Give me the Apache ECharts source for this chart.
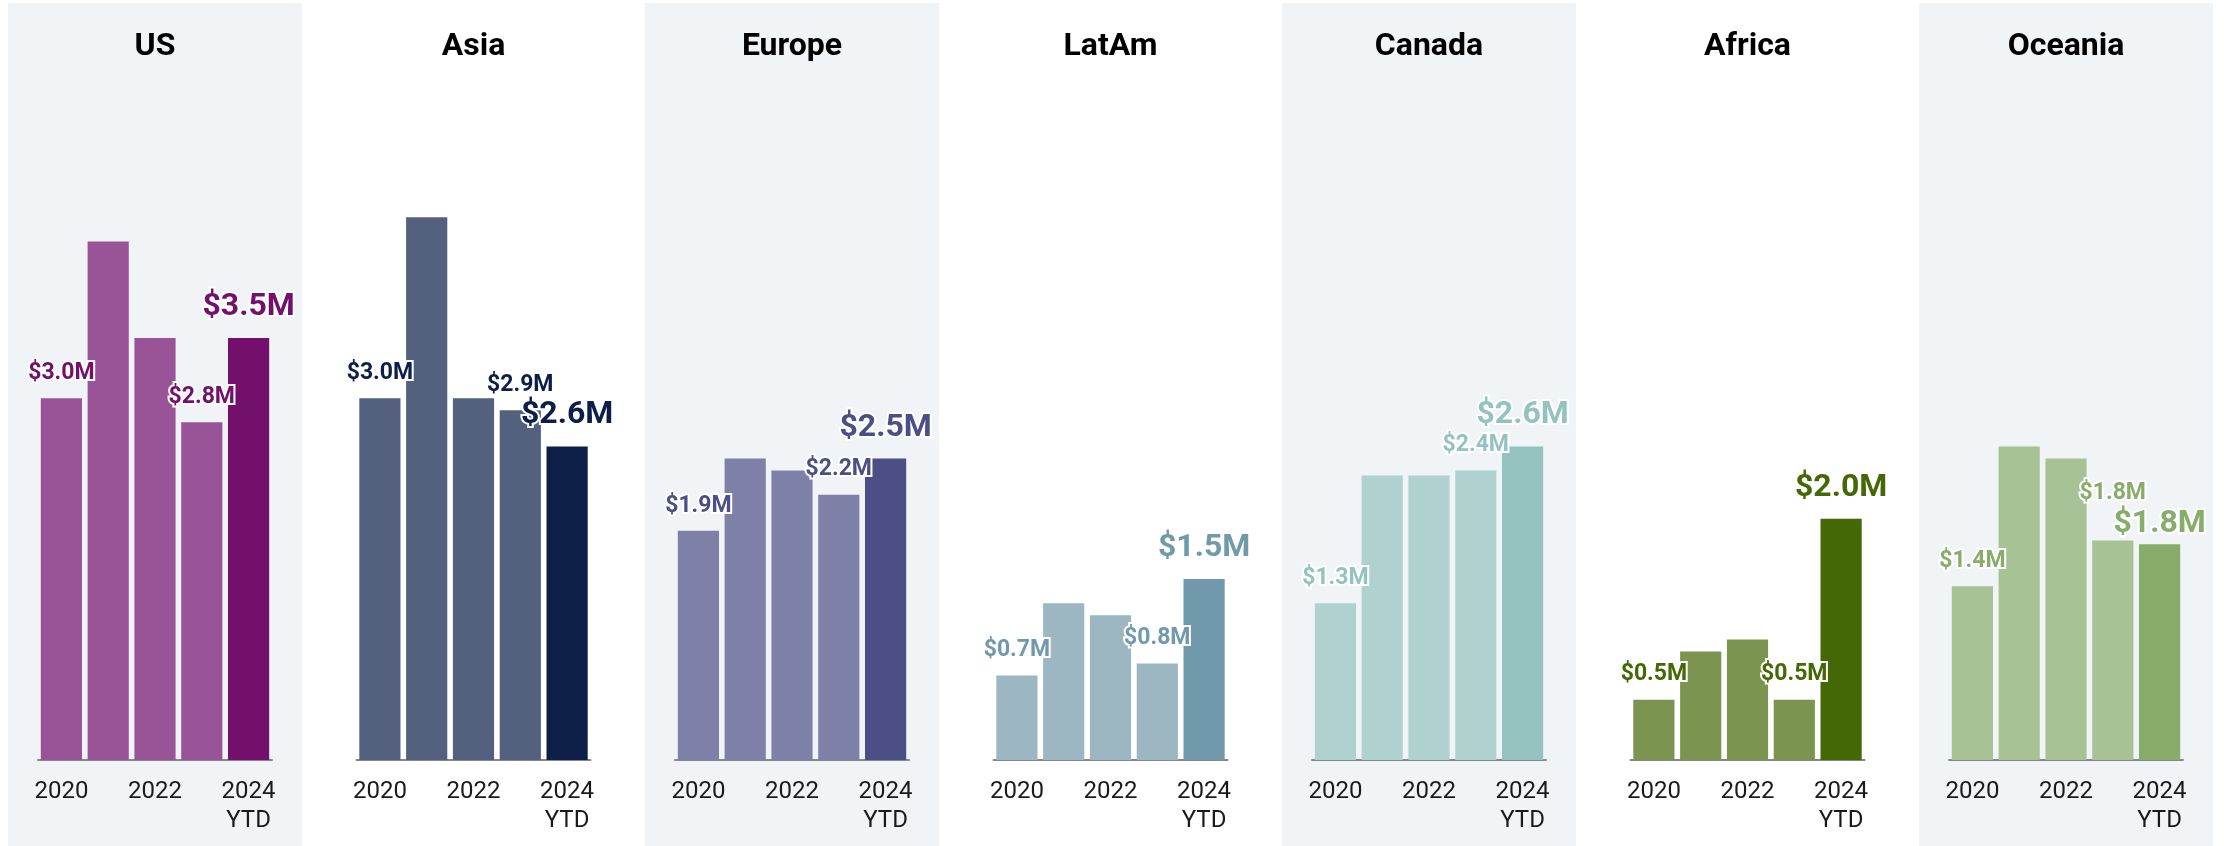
<!DOCTYPE html>
<html>
<head>
<meta charset="utf-8">
<script src="https://cdn.jsdelivr.net/npm/echarts@6/dist/echarts.min.js"></script>
<style>
  html, body { margin: 0; padding: 0; background: #fff; }
  #main { width: 2224px; height: 846px; }
</style>
</head>
<body>
<div id="main"></div>
<script>
// years on every small chart
var years = ['2020', '2021', '2022', '2023', '2024\nYTD']
var regions = ['US', 'Asia', 'Europe', 'LatAm', 'Canada', 'Africa', 'Oceania']

// revenue in $M
var usVals      = [3.0, 4.3, 3.5, 2.8, 3.5]
var asiaVals    = [3.0, 4.5, 3.0, 2.9, 2.6]
var europeVals  = [1.9, 2.5, 2.4, 2.2, 2.5]
var latamVals   = [0.7, 1.3, 1.2, 0.8, 1.5]
var canadaVals  = [1.3, 2.36, 2.36, 2.4, 2.6]
var africaVals  = [0.5, 0.9, 1.0, 0.5, 2.0]
var oceaniaVals = [1.44, 2.6, 2.5, 1.82, 1.79]

var baseColors = ['#985497', '#53617e', '#7f80a7', '#9cb6c2', '#b0d2cf', '#7b9550', '#a7c294']
var hiColors   = ['#72106c', '#0d1f48', '#4c4f86', '#7099ab', '#94c3bf', '#446805', '#88ac6a']
var shaded     = [true, false, true, false, true, false, true]
// Oceania's 2023 and 2024 labels collide, so the 2023 one sits higher
var raise2023  = [0, 0, 0, 0, 0, 0, 22]
var bigDist    = [14, 14, 14, 14, 14, 14, 3]

var allVals = [usVals, asiaVals, europeVals, latamVals, canadaVals, africaVals, oceaniaVals]
var pitch = 318.5

var myChart = echarts.init(document.getElementById('main'))

var grids = [], xAxes = [], yAxes = [], series = [], titles = [], rects = []
regions.forEach(function (name, i) {
  var left = 38 + pitch * i
  if (shaded[i]) {
    rects.push({
      type: 'rect', z: -10, silent: true,
      shape: { x: 8 + pitch * i, y: 3, width: 294, height: 843 },
      style: { fill: '#f0f4f7' }
    })
  }
  titles.push({
    text: name,
    left: left + 117, top: 28, textAlign: 'center', padding: 0,
    textStyle: { fontFamily: 'Roboto', fontSize: 32, fontWeight: 'bold', color: '#000', lineHeight: 38 }
  })
  grids.push({ left: left, width: 234, top: 157, bottom: 86 })
  xAxes.push({
    type: 'category', gridIndex: i, data: years,
    axisLine: { lineStyle: { color: '#878787', width: 2 } },
    axisTick: { show: false },
    axisLabel: { interval: 1, margin: 17, fontFamily: 'Roboto', fontSize: 24, lineHeight: 29, color: '#1a1a1a' }
  })
  yAxes.push({ type: 'value', gridIndex: i, min: 0, max: 5, show: false })
  var data = allVals[i].map(function (v, j) {
    var last = j === years.length - 1
    var shown = j === 0 || j === 3 || last
    return {
      value: v,
      itemStyle: { color: last ? hiColors[i] : baseColors[i] },
      label: {
        show: shown,
        position: 'top',
        distance: last ? bigDist[i] : 12,
        offset: [0, j === 3 ? -raise2023[i] : 0],
        formatter: '$' + v.toFixed(1) + 'M',
        fontFamily: 'Roboto', fontWeight: 'bold',
        fontSize: last ? 32 : 23,
        lineHeight: last ? 34 : 26,
        color: hiColors[i],
        textBorderColor: '#fff', textBorderWidth: 4
      }
    }
  })
  series.push({
    type: 'bar', xAxisIndex: i, yAxisIndex: i,
    barCategoryGap: '12%',
    data: data,
    animation: false
  })
})

myChart.setOption({
  backgroundColor: '#fff',
  animation: false,
  title: titles,
  graphic: rects,
  grid: grids,
  xAxis: xAxes,
  yAxis: yAxes,
  series: series
})
</script>
</body>
</html>
